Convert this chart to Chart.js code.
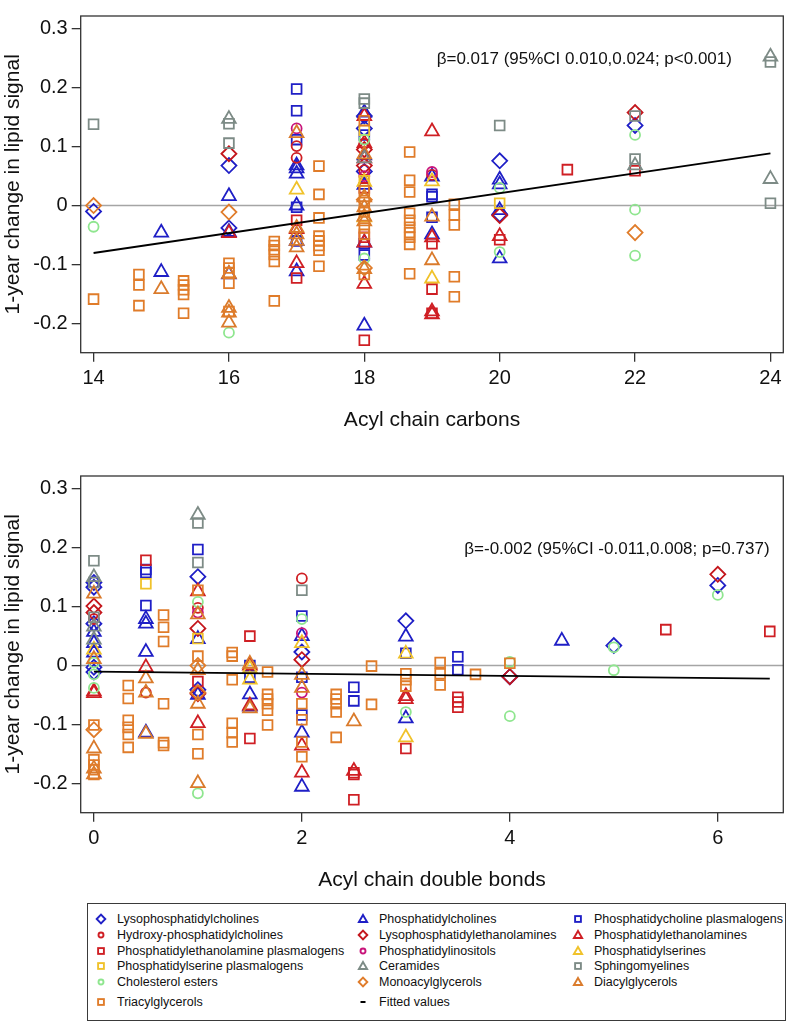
<!DOCTYPE html>
<html><head><meta charset="utf-8">
<script src="https://cdn.jsdelivr.net/npm/chart.js@4.4.1/dist/chart.umd.min.js"></script>
<style>
body{margin:0;background:#fff;width:793px;height:1024px;position:relative;overflow:hidden;font-family:'Liberation Sans',Arial,Helvetica,sans-serif;}
.panel{position:absolute;left:0;width:793px;height:440px;}
#legend{position:absolute;left:87px;top:903px;width:699px;height:118px;border:1px solid #3a3a3a;box-sizing:border-box;}
.lm{position:absolute;width:14px;height:14px;}
.lt{position:absolute;font-size:12.5px;color:#111;white-space:nowrap;line-height:14px;}
</style></head><body>
<div class="panel" style="top:0"><canvas id="c1" width="793" height="440"></canvas></div>
<div class="panel" style="top:460px"><canvas id="c2" width="793" height="440"></canvas></div>
<div id="legend"></div>
<script>
// ---------- DATA ----------
const seriesNames = ['Lysophosphatidylcholines','Phosphatidylcholines','Phosphatidycholine plasmalogens',
  'Hydroxy-phosphatidylcholines','Lysophosphatidylethanolamines','Phosphatidylethanolamines',
  'Phosphatidylethanolamine plasmalogens','Phosphatidylinositols','Phosphatidylserines',
  'Phosphatidylserine plasmalogens','Ceramides','Sphingomyelines',
  'Cholesterol esters','Monoacylglycerols','Diacylglycerols','Triacylglycerols'];
const fittedName = 'Fitted values';

const xTitleCarbons = 'Acyl chain carbons';
const xTitleBonds = 'Acyl chain double bonds';
const yTitle = '1-year change in lipid signal';
const yTickValues = [0.3, 0.2, 0.1, 0, -0.1, -0.2];
const yTickLabels = ['0.3', '0.2', '0.1', '0', '-0.1', '-0.2'];
const xTicksCarbons = [14, 16, 18, 20, 22, 24];
const xTicksBonds = [0, 2, 4, 6];

// Acyl chain carbons panel: [x, y]
const cbLPC = [[14,-0.010],[16,0.068],[16,-0.038],[18,0.152],[18,0.131],[18,0.058],[20,0.076],[20,-0.015],[22,0.136]];
const cbPC = [[15,-0.046],[15,-0.113],[16,0.016],[16,-0.045],[16,-0.117],[17,0.068],[17,0.063],[17,0.054],[17,0.000],[17,-0.060],[17,-0.112],[18,0.158],[18,0.085],[18,0.035],[18,-0.063],[18,-0.204],[19,0.049],[19,-0.049],[20,0.044],[20,0.036],[20,-0.008],[20,-0.090]];
const cbPCP = [[17,0.198],[17,0.161],[17,0.112],[17,-0.003],[17,-0.060],[18,0.120],[18,-0.065],[18,-0.084],[19,0.019],[19,0.015],[19,-0.020]];
const cbHPC = [[17,0.101],[17,0.081],[18,0.105],[18,0.060],[19,0.052]];
const cbLPE = [[16,0.088],[18,0.095],[18,0.068],[20,-0.017],[22,0.158]];
const cbPE = [[16,-0.047],[17,-0.040],[17,-0.098],[18,0.152],[18,0.106],[18,0.080],[18,-0.063],[18,-0.133],[19,0.126],[19,-0.054],[19,-0.180],[19,-0.185],[20,-0.052]];
const cbPEP = [[17,-0.025],[17,-0.123],[18,0.030],[18,-0.054],[18,-0.229],[19,-0.065],[19,-0.142],[19,-0.183],[20,-0.058],[21,0.061],[22,0.059]];
const cbPI = [[17,0.131],[18,0.050],[19,0.057]];
const cbPS = [[17,0.027],[18,0.040],[18,-0.020],[19,0.041],[19,-0.124]];
const cbPSP = [[18,0.128],[18,0.042],[20,0.004]];
const cbCER = [[16,0.147],[18,0.080],[22,0.068],[24,0.253],[24,0.045]];
const cbSM = [[14,0.138],[16,0.139],[16,0.106],[18,0.181],[18,0.174],[20,0.136],[22,0.152],[22,0.079],[24,0.244],[24,0.004]];
const cbCE = [[14,-0.036],[16,-0.216],[18,0.112],[18,-0.090],[20,0.030],[20,-0.079],[22,0.120],[22,-0.007],[22,-0.085]];
const cbMAG = [[14,0.000],[16,-0.011],[18,0.010],[18,-0.106],[22,-0.046]];
const cbDAG = [[15,-0.142],[16,-0.116],[16,-0.174],[16,-0.182],[16,-0.199],[17,0.123],[17,-0.038],[17,-0.049],[17,-0.060],[17,-0.071],[18,0.087],[18,0.014],[18,-0.003],[18,-0.019],[18,-0.027],[18,-0.108],[19,-0.019],[19,-0.093]];
const cbTAG = [[14,-0.159],[14.67,-0.117],[14.67,-0.135],[14.67,-0.170],[15.33,-0.128],[15.33,-0.135],[15.33,-0.143],[15.33,-0.151],[15.33,-0.183],[16,-0.098],[16,-0.106],[16,-0.114],[16,-0.132],[16,-0.180],[16.67,-0.061],[16.67,-0.068],[16.67,-0.075],[16.67,-0.083],[16.67,-0.095],[16.67,-0.162],[17.33,0.067],[17.33,0.019],[17.33,-0.021],[17.33,-0.052],[17.33,-0.060],[17.33,-0.068],[17.33,-0.076],[17.33,-0.103],[18,0.144],[18,0.025],[18,0.005],[18,-0.011],[18,-0.038],[18,-0.049],[18,-0.117],[18.67,0.091],[18.67,0.043],[18.67,0.023],[18.67,-0.013],[18.67,-0.025],[18.67,-0.037],[18.67,-0.046],[18.67,-0.054],[18.67,-0.066],[18.67,-0.116],[19.33,0.002],[19.33,-0.016],[19.33,-0.033],[19.33,-0.121],[19.33,-0.155]];

// Acyl chain double bonds panel: [x, y]
const dbLPC = [[0,0.141],[0,0.133],[0,0.071],[0,-0.003],[0,-0.011],[1,0.151],[1,-0.041],[2,0.023],[3,0.076],[4,-0.019],[5,0.034],[6,0.136]];
const dbPC = [[0,0.057],[0,0.038],[0,0.022],[0.5,0.079],[0.5,0.071],[0.5,0.023],[0.5,-0.114],[1,0.045],[1,-0.050],[1.5,-0.049],[1.5,-0.070],[2,0.050],[2,-0.114],[2,-0.206],[3,0.049],[3,-0.090],[4.5,0.042]];
const dbPCP = [[0.5,0.163],[0.5,0.158],[0.5,0.102],[1,0.197],[1.5,0.000],[1.5,-0.020],[2,0.084],[2,-0.020],[2,-0.084],[2.5,-0.037],[2.5,-0.060],[3,0.021],[3.5,0.015],[3.5,-0.007]];
const dbHPC = [[0,0.079],[0.5,-0.046],[1,0.098],[2,0.148]];
const dbLPE = [[0,0.101],[0,0.090],[1,0.063],[1,-0.048],[2,0.010],[4,-0.019],[6,0.155]];
const dbPE = [[0,-0.044],[0,-0.047],[0.5,-0.003],[1,0.126],[1,-0.098],[1.5,0.000],[1.5,-0.068],[2,-0.136],[2,-0.182],[2.5,-0.179],[3,-0.052],[3,-0.057]];
const dbPEP = [[0.5,0.179],[1,-0.027],[1.5,0.050],[1.5,-0.124],[2.5,-0.182],[2.5,-0.185],[2.5,-0.228],[3,-0.141],[3.5,-0.054],[3.5,-0.062],[3.5,-0.071],[5.5,0.061],[6.5,0.058]];
const dbPI = [[1,0.090],[2,0.055],[2,-0.046]];
const dbPS = [[0,0.027],[1.5,-0.005],[1.5,-0.024],[2,0.038],[3,0.020],[3,-0.122]];
const dbPSP = [[0.5,0.139],[1,0.046]];
const dbCER = [[0,0.150],[0,0.066],[0,0.044],[1,0.256]];
const dbSM = [[0,0.178],[0,0.141],[0,0.082],[1,0.242],[1,0.175],[2,0.128]];
const dbCE = [[0,0.005],[0,-0.015],[0,-0.038],[1,0.108],[1,-0.217],[2,0.079],[3,-0.079],[4,0.006],[4,-0.086],[5,0.031],[5,-0.008],[6,0.120]];
const dbMAG = [[0,-0.109],[1,0.000],[1,-0.046]];
const dbDAG = [[0,0.122],[0,0.011],[0,-0.141],[0,-0.175],[0,-0.185],[0.5,-0.022],[0.5,-0.046],[0.5,-0.116],[1,0.087],[1,-0.008],[1,-0.065],[1,-0.200],[1.5,0.003],[1.5,-0.073],[2,-0.016],[2,-0.038],[2.5,-0.095]];
const dbTAG = [[0,-0.101],[0,-0.160],[0,-0.169],[0,-0.177],[0,-0.185],[0.33,-0.034],[0.33,-0.056],[0.33,-0.093],[0.33,-0.105],[0.33,-0.117],[0.33,-0.139],[0.67,0.086],[0.67,0.065],[0.67,0.041],[0.67,-0.065],[0.67,-0.131],[0.67,-0.136],[1,0.128],[1,0.016],[1,-0.117],[1,-0.150],[1.33,0.022],[1.33,0.016],[1.33,-0.024],[1.33,-0.098],[1.33,-0.114],[1.33,-0.130],[1.67,-0.011],[1.67,-0.049],[1.67,-0.057],[1.67,-0.065],[1.67,-0.076],[1.67,-0.101],[2,-0.065],[2,-0.092],[2,-0.130],[2,-0.155],[2.33,-0.049],[2.33,-0.057],[2.33,-0.065],[2.33,-0.079],[2.33,-0.122],[2.67,-0.001],[2.67,-0.066],[3,-0.014],[3,-0.024],[3,-0.035],[3.33,0.005],[3.33,-0.014],[3.33,-0.033],[3.67,-0.015],[4,0.004]];

// fitted values
const fitCarbonsX = [14, 24];
const fitCarbonsY = [-0.0806, 0.0888];
const fitBondsX = [0, 6.5];
const fitBondsY = [-0.0105, -0.0222];

// annotations
const annotCarbonsText = 'β=0.017 (95%CI 0.010,0.024; p<0.001)';
const annotCarbonsAt = [21.25, 0.248];
const annotBondsText = 'β=-0.002 (95%CI -0.011,0.008; p=0.737)';
const annotBondsAt = [5.03, 0.197];

// axis ranges
const yRange = [-0.25, 0.322];
const xRangeCarbons = [13.81, 24.19];
const xRangeBonds = [-0.127, 6.63];

// ---------- STYLE ----------
const FONT = "'Liberation Sans', Arial, Helvetica, sans-serif";
const BLUE = '#1f1fc6', RED = '#cf1f24', RED2 = '#c4161c', MAG = '#c8147a', YEL = '#f0c22a',
      GRAY = '#7d8b86', GREEN = '#8fe68f', ORANGE = '#e07c2a', ORANGE2 = '#da7b2c';
const seriesShapes = ['rectRot','triangle','rect','circle','rectRot','triangle','rect','circle','triangle','rect','triangle','rect','circle','rectRot','triangle','rect'];
const seriesColors = [BLUE,BLUE,BLUE,RED,RED2,RED,RED,MAG,YEL,YEL,GRAY,GRAY,GREEN,ORANGE,ORANGE2,ORANGE];
const shapeRadius = {rectRot:7.5, triangle:7.9, rect:6.9, circle:5.0};

const carbonsSeries = [cbLPC,cbPC,cbPCP,cbHPC,cbLPE,cbPE,cbPEP,cbPI,cbPS,cbPSP,cbCER,cbSM,cbCE,cbMAG,cbDAG,cbTAG];
const bondsSeries = [dbLPC,dbPC,dbPCP,dbHPC,dbLPE,dbPE,dbPEP,dbPI,dbPS,dbPSP,dbCER,dbSM,dbCE,dbMAG,dbDAG,dbTAG];

function makeDatasets(seriesList, fitX, fitY) {
  const ds = [{
    label: fittedName, data: fitX.map((x, i) => ({x, y: fitY[i]})),
    showLine: true, borderColor: '#000', borderWidth: 1.8, pointRadius: 0, order: 0, fill: false
  }];
  seriesList.forEach((pts, i) => ds.push({
    label: seriesNames[i], data: pts.map(p => ({x: p[0], y: p[1]})),
    pointStyle: seriesShapes[i], pointRadius: shapeRadius[seriesShapes[i]],
    pointBorderColor: seriesColors[i], pointBackgroundColor: 'rgba(0,0,0,0)',
    pointBorderWidth: 1.8, showLine: false, order: 100 - i
  }));
  return ds;
}

const framePlugin = {
  id: 'frame',
  beforeDatasetsDraw(chart) {
    const {ctx, chartArea: a, scales: {y}} = chart;
    const y0 = y.getPixelForValue(0);
    ctx.save();
    ctx.strokeStyle = '#a5a5a5'; ctx.lineWidth = 1.6;
    ctx.beginPath(); ctx.moveTo(a.left, y0); ctx.lineTo(a.right, y0); ctx.stroke();
    ctx.restore();
  },
  afterDatasetsDraw(chart, args, opts) {
    const {ctx, scales: {x, y}} = chart;
    ctx.save();
    ctx.font = '17px ' + FONT; ctx.fillStyle = '#111';
    ctx.textAlign = 'center'; ctx.textBaseline = 'middle';
    ctx.fillText(opts.text, x.getPixelForValue(opts.at[0]), y.getPixelForValue(opts.at[1]));
    ctx.restore();
  },
  afterDraw(chart) {
    const {ctx, chartArea: a} = chart;
    ctx.save();
    ctx.strokeStyle = '#333'; ctx.lineWidth = 1.3;
    ctx.strokeRect(a.left, a.top, a.right - a.left, a.bottom - a.top);
    ctx.restore();
  }
};

function makeChart(id, seriesList, fitX, fitY, xRange, xTicks, xTitle, annText, annAt) {
  return new Chart(document.getElementById(id), {
    type: 'scatter',
    data: { datasets: makeDatasets(seriesList, fitX, fitY) },
    plugins: [framePlugin],
    options: {
      responsive: false, animation: false, devicePixelRatio: 1,
      layout: { padding: { top: 2.7, right: 3, left: 0, bottom: 0 } },
      plugins: { legend: { display: false }, tooltip: { enabled: false },
        frame: { text: annText, at: annAt } },
      scales: {
        x: {
          type: 'linear', min: xRange[0], max: xRange[1],
          afterBuildTicks: s => { s.ticks = xTicks.map(v => ({value: v})); },
          afterFit: s => { s.height = 87.3; },
          ticks: { font: {family: FONT, size: 20}, color: '#111', padding: 5, maxRotation: 0, autoSkip: false,
                   callback: v => String(v) },
          grid: { drawOnChartArea: false, drawTicks: true, tickLength: 9, color: '#333', lineWidth: 1.3 },
          border: { display: false },
          title: { display: true, text: xTitle, font: {family: FONT, size: 21}, color: '#111', padding: {top: 0, bottom: 7.4} }
        },
        y: {
          type: 'linear', min: yRange[0], max: yRange[1],
          afterBuildTicks: s => { s.ticks = yTickValues.map(v => ({value: v})); },
          afterFit: s => { s.width = 80.7; },
          ticks: { font: {family: FONT, size: 20}, color: '#111', padding: 4, autoSkip: false,
                   callback: v => { const i = yTickValues.findIndex(t => Math.abs(t - v) < 1e-9); return i >= 0 ? yTickLabels[i] : ''; } },
          grid: { drawOnChartArea: false, drawTicks: true, tickLength: 9, color: '#333', lineWidth: 1.3 },
          border: { display: false },
          title: { display: true, text: yTitle, font: {family: FONT, size: 21}, color: '#111', padding: {top: 1, bottom: 0} }
        }
      }
    }
  });
}

makeChart('c1', carbonsSeries, fitCarbonsX, fitCarbonsY, xRangeCarbons, xTicksCarbons, xTitleCarbons, annotCarbonsText, annotCarbonsAt);
makeChart('c2', bondsSeries, fitBondsX, fitBondsY, xRangeBonds, xTicksBonds, xTitleBonds, annotBondsText, annotBondsAt);

// ---------- LEGEND ----------
const legendColX = [13, 275, 490];      // marker centres (px inside box)
const legendTextX = [29, 291, 506];
const legendRowY = [15.3, 31, 46.7, 62.3, 78.3, 98.3];
function markerSVG(shape, color) {
  const c = 7, sw = 1.9;
  let el;
  if (shape === 'rectRot') el = `<polygon points="${c-4.3},${c} ${c},${c-4.3} ${c+4.3},${c} ${c},${c+4.3}" fill="none" stroke="${color}" stroke-width="${sw}"/>`;
  else if (shape === 'rect') el = `<rect x="${c-2.9}" y="${c-2.9}" width="5.8" height="5.8" fill="none" stroke="${color}" stroke-width="${sw}"/>`;
  else if (shape === 'circle') el = `<circle cx="${c}" cy="${c}" r="2.5" fill="none" stroke="${color}" stroke-width="${sw}"/>`;
  else if (shape === 'triangle') el = `<polygon points="${c},${c-4} ${c+4.1},${c+3} ${c-4.1},${c+3}" fill="none" stroke="${color}" stroke-width="${sw}"/>`;
  else el = `<rect x="${c-2.5}" y="${c-1}" width="5" height="2" fill="#000"/>`;
  return `<svg width="14" height="14" viewBox="0 0 14 14">${el}</svg>`;
}
const legend = document.getElementById('legend');
const legendEntries = seriesNames.map((n, i) => ({name: n, shape: seriesShapes[i], color: seriesColors[i]}));
legendEntries.push({name: fittedName, shape: 'line', color: '#000'});
legendEntries.forEach((e, k) => {
  const col = k % 3, row = Math.floor(k / 3);
  const m = document.createElement('div');
  m.className = 'lm';
  m.style.left = (legendColX[col] - 7) + 'px';
  m.style.top = (legendRowY[row] - 7) + 'px';
  m.innerHTML = markerSVG(e.shape, e.color);
  legend.appendChild(m);
  const t = document.createElement('div');
  t.className = 'lt';
  t.style.left = legendTextX[col] + 'px';
  t.style.top = (legendRowY[row] - 7) + 'px';
  t.textContent = e.name;
  legend.appendChild(t);
});
</script>
</body></html>
